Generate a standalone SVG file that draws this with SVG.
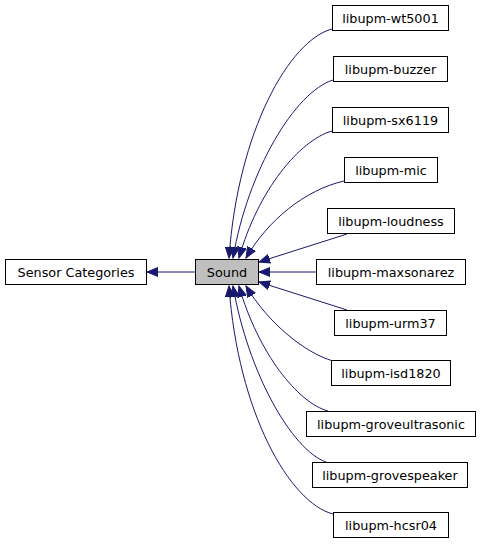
<svg xmlns="http://www.w3.org/2000/svg" width="480" height="544" viewBox="0 0 480 544">
<style>
.n rect{fill:#fff;stroke:#000;stroke-width:1}
.n text{font-family:"DejaVu Sans",sans-serif;font-size:12.8px;text-anchor:middle;fill:#000}
#n_sound rect{fill:#bfbfbf}
.e path{fill:none;stroke:#191970;stroke-width:1;marker-end:url(#ah)}
</style>
<defs>
<marker id="ah" markerUnits="userSpaceOnUse" markerWidth="12" markerHeight="10" viewBox="0 -5 12 10" refX="11" refY="0" orient="auto">
<path d="M0,-4.5 L11,0 L0,4.5 z" fill="#191970" stroke="#191970" stroke-width="1"/>
</marker>
</defs>
<rect width="480" height="544" fill="#fff"/>
<g id="edges" class="e">
<path d="M195,272 L147,272"/>
<path d="M332,29 C290,40 238,130 229,258"/>
<path d="M333,80 C295,92 248,170 233,258"/>
<path d="M332,131 C300,140 258,190 239,258"/>
<path d="M344,181 C305,190 268,220 246,258"/>
<path d="M347,234 L259,262"/>
<path d="M316,272 L259,272"/>
<path d="M347,310 L259,282"/>
<path d="M333,361 C305,353 268,323 246,286"/>
<path d="M328,411 C298,403 258,353 239,286"/>
<path d="M326,462 C292,450 248,373 233,286"/>
<path d="M333,514 C290,503 238,413 229,286"/>
</g>
<g id="n_sensor" class="n"><rect x="5.5" y="259.5" width="141" height="25"/><text x="76" y="276.5">Sensor Categories</text></g>
<g id="n_sound" class="n"><rect x="195.5" y="259.5" width="63" height="25"/><text x="227" y="276.5">Sound</text></g>
<g id="n_wt5001" class="n"><rect x="332.5" y="5.5" width="116" height="25"/><text x="390.5" y="22.5">libupm-wt5001</text></g>
<g id="n_buzzer" class="n"><rect x="333.5" y="56.5" width="114" height="25"/><text x="390.5" y="73.5">libupm-buzzer</text></g>
<g id="n_sx6119" class="n"><rect x="332.5" y="107.5" width="116" height="25"/><text x="390.5" y="124.5">libupm-sx6119</text></g>
<g id="n_mic" class="n"><rect x="344.5" y="157.5" width="93" height="25"/><text x="391" y="174.5">libupm-mic</text></g>
<g id="n_loudness" class="n"><rect x="327.5" y="208.5" width="127" height="25"/><text x="391" y="225.5">libupm-loudness</text></g>
<g id="n_maxsonarez" class="n"><rect x="316.5" y="259.5" width="149" height="25"/><text x="391" y="276.5">libupm-maxsonarez</text></g>
<g id="n_urm37" class="n"><rect x="334.5" y="310.5" width="112" height="25"/><text x="390.5" y="327.5">libupm-urm37</text></g>
<g id="n_isd1820" class="n"><rect x="331.5" y="360.5" width="119" height="25"/><text x="391" y="377.5">libupm-isd1820</text></g>
<g id="n_groveultrasonic" class="n"><rect x="306.5" y="411.5" width="169" height="25"/><text x="391" y="428.5">libupm-groveultrasonic</text></g>
<g id="n_grovespeaker" class="n"><rect x="312.5" y="462.5" width="155" height="25"/><text x="390" y="479.5">libupm-grovespeaker</text></g>
<g id="n_hcsr04" class="n"><rect x="333.5" y="512.5" width="115" height="25"/><text x="391" y="529.5">libupm-hcsr04</text></g>
</svg>
